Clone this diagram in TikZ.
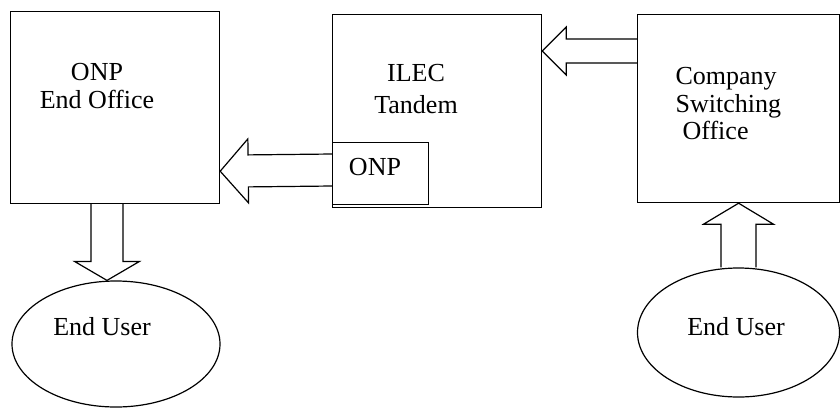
\documentclass[tikz,border=0pt]{standalone}
\usepackage{fontspec}
\setmainfont{Liberation Serif}
\usetikzlibrary{calc}
\usetikzlibrary{shapes.geometric}
\newcommand{\fatarrow}[5]{%
\coordinate (fah) at ($(#2)!#5!(#1)$);
\draw[fat] ($(#1)!#3!90:(#2)$) -- ($(fah)!#3!90:(#2)$) -- ($(fah)!#4!90:(#2)$) -- (#2)
  -- ($(fah)!#4!-90:(#2)$) -- ($(fah)!#3!-90:(#2)$) -- ($(#1)!#3!-90:(#2)$);}

\begin{document}
\begin{tikzpicture}[x=0.5pt,y=-0.5pt,line width=0.6pt,
  box/.style={draw,rectangle,anchor=north west,inner sep=0pt},
  user/.style={draw,ellipse,inner sep=0pt,minimum width=104pt,minimum height=63pt},
  txt/.style={inner sep=0pt,font=\fontsize{13}{13.75}\selectfont},
  fat/.style={line join=miter}]
\useasboundingbox (0,0) rectangle (840,408);
\node[box,minimum width=104.5pt,minimum height=96pt] (eo) at (10,11) {};
\node[box,minimum width=104.5pt,minimum height=96.5pt] (tandem) at (332,14) {};
\node[box,minimum width=48pt,minimum height=31pt] (tonp) at (332,142) {};
\node[box,minimum width=101pt,minimum height=94pt] (cso) at (637,14) {};
\node[user] (ul) at (116,344) {};
\node[user,minimum width=101pt,minimum height=64.5pt] (ur) at (738.5,332.5) {};
\node[txt,anchor=north,align=center] (eot) at (97,63) {ONP\\End Office};
\node[txt,anchor=north,align=center] (tt) at (416,64) {ILEC\\[2pt]Tandem};
\node[txt,anchor=north] (tonpt) at (375,158) {ONP};
\node[txt,anchor=north west,align=left] (csot) at (675,67) {Company\\Switching\\\hspace*{3.5pt}Office};
\node[txt,anchor=north] (ult) at (102,317) {End User};
\node[txt,anchor=north] (urt) at (736,317) {End User};
\coordinate (a1s) at ($(cso.north west)+(0,37)$);
\coordinate (a1t) at ($(tandem.north east)+(0,37)$);
\fatarrow{a1s}{a1t}{6pt}{12pt}{12pt}
\coordinate (a2s) at ($(tonp.north west)+(0,28)$);
\coordinate (a2t) at ($(eo.south east)+(0,-33)$);
\fatarrow{a2s}{a2t}{8pt}{16pt}{14pt}
\coordinate (a3s) at ($(eo.south west)+(97,0)$);
\coordinate (a3t) at ($(ul.north)+(-9,0)$);
\fatarrow{a3s}{a3t}{8pt}{16.25pt}{9.5pt}
\fatarrow{ur.north}{cso.south}{8.75pt}{17.5pt}{10.5pt}
\end{tikzpicture}
\end{document}
